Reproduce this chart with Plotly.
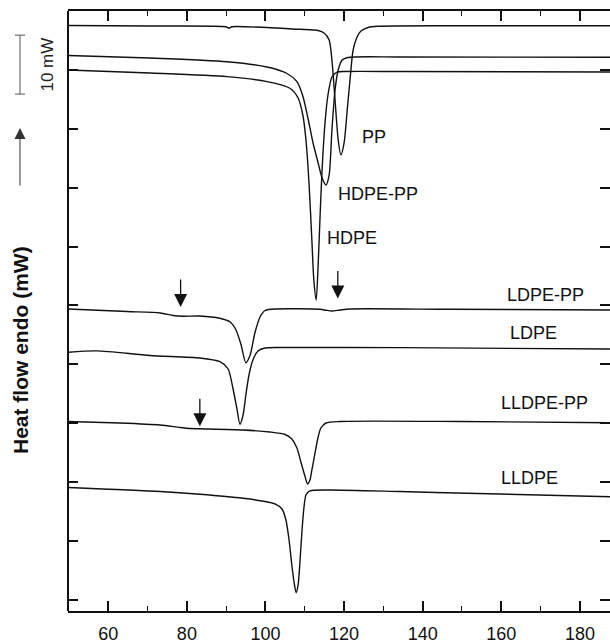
import plotly.graph_objects as go

# ---- data (temperature in deg C, heat flow in mW, curves offset vertically) ----
pp_t = [49.8, 70.6, 89.9, 90.7, 91.5, 108.8, 113.4, 114.9, 116.2, 116.9, 117.7, 118.5,
        119.2, 120.0, 120.8, 121.5, 122.3, 123.3, 124.3, 126.1, 128.6, 146.9, 187.7]
pp_q = [97.54, 97.45, 97.32, 97.08, 97.32, 96.89, 96.69, 96.26, 95.08, 91.68, 84.89, 78.10,
        75.55, 77.59, 83.19, 88.29, 93.38, 95.59, 96.60, 97.20, 97.40, 97.49, 97.50]

hdpepp_t = [49.8, 70.6, 90.2, 100.4, 105.5, 108.0, 109.5, 110.8, 112.1, 113.4, 114.4, 115.4,
            116.2, 116.9, 117.7, 118.5, 119.5, 121.0, 134.2, 187.7]
hdpepp_q = [92.45, 92.02, 91.39, 90.49, 89.39, 88.00, 85.57, 81.83, 77.59, 74.19, 71.65, 70.46,
            72.16, 79.80, 86.59, 89.98, 91.68, 92.11, 92.19, 92.14]

hdpe_t = [49.8, 70.6, 90.2, 100.4, 106.2, 108.3, 109.5, 110.3, 111.1, 111.8, 112.3, 112.9,
          113.4, 113.9, 114.4, 115.1, 115.9, 116.9, 118.2, 120.2, 134.2, 187.7]
hdpe_q = [89.98, 89.47, 88.85, 88.00, 86.88, 85.23, 82.34, 78.10, 70.46, 61.12, 54.33, 50.93,
          56.88, 65.37, 73.01, 80.65, 85.74, 88.79, 89.64, 89.73, 89.73, 89.64]

ldpepp_t = [49.8, 64.8, 73.2, 76.5, 79.0, 83.3, 88.4, 91.0, 92.5, 93.8, 95.0, 96.1, 97.3,
            98.6, 99.9, 102.9, 113.9, 115.4, 116.9, 119.0, 121.5, 146.9, 187.7]
ldpepp_q = [49.41, 48.98, 48.73, 48.30, 48.17, 48.22, 47.83, 47.20, 45.84, 43.29, 40.29, 41.60,
            45.33, 48.05, 49.15, 49.41, 49.35, 49.19, 49.07, 49.24, 49.41, 49.35, 49.24]

ldpe_t = [49.8, 57.1, 70.6, 83.3, 88.4, 90.5, 91.7, 92.7, 93.5, 94.3, 95.0, 95.8, 96.8,
          98.1, 99.9, 103.7, 134.2, 187.7]
ldpe_q = [42.05, 42.30, 41.51, 41.09, 40.46, 39.22, 35.99, 32.60, 29.83, 31.41, 34.80, 38.20,
          40.75, 42.28, 42.78, 42.87, 42.84, 42.61]

lldpepp_t = [49.8, 63.0, 73.2, 78.2, 80.8, 83.3, 94.3, 101.1, 105.0, 106.7, 108.0, 109.0,
             110.1, 110.7, 111.3, 111.8, 112.6, 113.4, 114.1, 115.4, 119.0, 149.5, 187.7]
lldpepp_q = [30.31, 30.05, 29.71, 29.29, 29.12, 29.07, 28.86, 28.52, 28.10, 27.33, 25.81, 23.43,
             20.88, 19.69, 20.37, 22.07, 24.96, 27.67, 29.20, 30.05, 30.31, 30.31, 30.10]

lldpe_t = [49.8, 73.2, 83.3, 94.3, 99.9, 102.4, 104.2, 105.2, 106.0, 106.7, 107.3, 107.8,
           108.3, 108.8, 109.3, 109.8, 110.3, 111.3, 115.7, 134.2, 151.3, 187.7]
lldpe_q = [19.10, 18.42, 17.95, 17.27, 16.72, 16.30, 15.45, 13.58, 10.19, 5.94, 2.89, 1.24,
           2.55, 6.79, 11.88, 15.79, 17.83, 18.51, 18.68, 18.42, 18.12, 17.54]

labels = ["PP", "HDPE-PP", "HDPE", "LDPE-PP", "LDPE", "LLDPE-PP", "LLDPE"]
label_t = [127.5, 128.5, 121.9, 171.2, 168.3, 171.1, 167.3]
label_q = [78.6, 68.9, 61.5, 51.8, 45.3, 33.4, 20.7]

arrow_t = [78.4, 118.4, 83.3]
arrow_q = [49.75, 51.2, 29.5]

x_ticks = [60, 80, 100, 120, 140, 160, 180]
y_ticks = [0, 10, 20, 30, 40, 50, 60, 70, 80, 90, 100]

FONT = "Liberation Sans, Arial, Helvetica, sans-serif"
INK = "#111111"

fig = go.Figure()
for t, q in [(pp_t, pp_q), (hdpepp_t, hdpepp_q), (hdpe_t, hdpe_q), (ldpepp_t, ldpepp_q),
             (ldpe_t, ldpe_q), (lldpepp_t, lldpepp_q), (lldpe_t, lldpe_q)]:
    fig.add_trace(go.Scatter(x=t, y=q, mode="lines",
                             line=dict(color=INK, width=1.4, shape="spline", smoothing=0.7),
                             showlegend=False, hoverinfo="skip"))

annotations = []
for txt, t, q in zip(labels, label_t, label_q):
    annotations.append(dict(x=t, y=q, xref="x", yref="y", text=txt, showarrow=False,
                            xanchor="center", yanchor="middle",
                            font=dict(family=FONT, size=18, color=INK)))
for t, q in zip(arrow_t, arrow_q):
    annotations.append(dict(x=t, y=q, xref="x", yref="y", text="", showarrow=True,
                            ax=0, ay=-29, arrowhead=2, arrowsize=2.0, arrowwidth=1.3,
                            arrowcolor=INK, standoff=0))

# left-side decorations (outside the plotting area)
annotations.append(dict(x=-0.0867, y=0.435, xref="paper", yref="paper",
                        text="<b>Heat flow endo (mW)</b>", textangle=-90, showarrow=False,
                        xanchor="center", yanchor="middle",
                        font=dict(family=FONT, size=21, color=INK)))
annotations.append(dict(x=-0.037, y=90.9, xref="paper", yref="y", text="10 mW",
                        textangle=-90, showarrow=False, xanchor="center", yanchor="middle",
                        font=dict(family=FONT, size=17, color="#222222")))
annotations.append(dict(x=-0.0886, y=0.805, xref="paper", yref="paper", text="",
                        showarrow=True, ax=0, ay=59, arrowhead=2, arrowsize=2.2,
                        arrowwidth=1.0, arrowcolor="#333333", standoff=0))

shapes = [
    # left frame line (right edge of the frame lies just outside the picture)
    dict(type="line", xref="paper", yref="paper", x0=0, x1=0, y0=0, y1=1,
         line=dict(color=INK, width=2)),
    # 10 mW scale bar
    dict(type="line", xref="paper", yref="y", x0=-0.0886, x1=-0.0886, y0=85.9, y1=95.9,
         line=dict(color="#555555", width=1)),
    dict(type="line", xref="paper", yref="y", x0=-0.0978, x1=-0.0793, y0=85.9, y1=85.9,
         line=dict(color="#555555", width=1)),
    dict(type="line", xref="paper", yref="y", x0=-0.0978, x1=-0.0793, y0=95.9, y1=95.9,
         line=dict(color="#555555", width=1)),
]

fig.update_layout(
    width=610, height=643,
    margin=dict(l=68, r=0, t=11, b=32),
    paper_bgcolor="white", plot_bgcolor="white",
    annotations=annotations, shapes=shapes,
    xaxis=dict(range=[49.75, 187.66], tickvals=x_ticks, ticks="inside", ticklen=10,
               tickwidth=1.5, tickcolor=INK, showline=True, linewidth=2, linecolor=INK,
               mirror="ticks", showgrid=False, zeroline=False, ticklabelstandoff=5,
               automargin=False,
               tickfont=dict(family=FONT, size=18, color=INK),
               minor=dict(ticks="inside", ticklen=5, tickwidth=1.3, tickcolor=INK,
                          tick0=50, dtick=10, showgrid=False)),
    yaxis=dict(range=[-1.87, 100], tickvals=y_ticks, ticks="inside", ticklen=10,
               tickwidth=1.5, tickcolor=INK, showline=False,
               mirror="ticks", showgrid=False, zeroline=False, showticklabels=False,
               automargin=False),
)

page_fix = ("document.documentElement.style.margin='0';"
            "document.documentElement.style.overflow='hidden';"
            "document.body.style.margin='0';"
            "document.body.style.overflow='hidden';")
fig.write_html("out.html", post_script=page_fix, config={"displayModeBar": False})
